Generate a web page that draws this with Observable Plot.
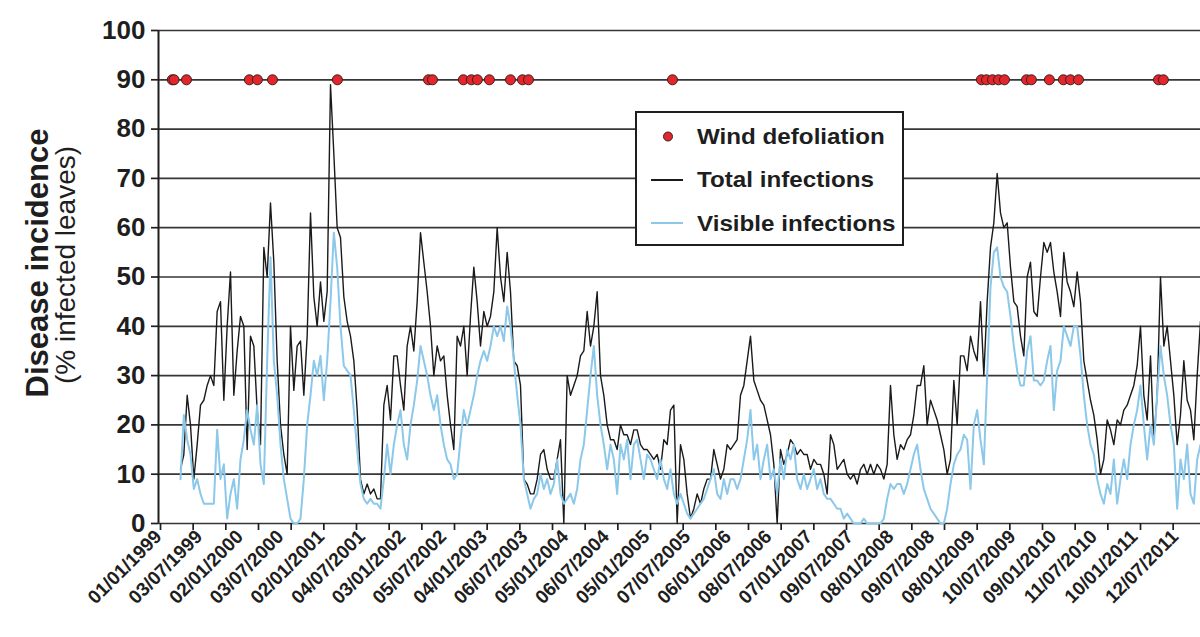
<!DOCTYPE html>
<html>
<head>
<meta charset="utf-8">
<script src="https://cdn.jsdelivr.net/npm/d3@7"></script>
<script src="https://cdn.jsdelivr.net/npm/@observablehq/plot@0.6"></script>
<style>
  html, body { margin: 0; padding: 0; background: #fff; }
  #wrap { position: relative; width: 1200px; height: 637px; overflow: hidden; font-family: "Liberation Sans", Arial, sans-serif; }
  #wrap > svg { display: block; }
  #legend { position: absolute; left: 0; top: 0; pointer-events: none; }
</style>
</head>
<body>
<div id="wrap"></div>
<script>
// ---------------- data ----------------
const tickLabels = ["01/01/1999","03/07/1999","02/01/2000","03/07/2000","02/01/2001","04/07/2001","03/01/2002","05/07/2002","04/01/2003","06/07/2003","05/01/2004","06/07/2004","05/01/2005","07/07/2005","06/01/2006","08/07/2006","07/01/2007","09/07/2007","08/01/2008","09/07/2008","08/01/2009","10/07/2009","09/01/2010","11/07/2010","10/01/2011","12/07/2011"];

const yTicks = [0,10,20,30,40,50,60,70,80,90,100];

// samples every 15 days from this date
const firstSample = "1999-04-10";
const sampleStepDays = 15;

const totalInfections = [
  11,14,26,20,9,16,24,25,28,30,
  28,43,45,25,40,51,26,35,42,40,
  15,38,36,23,16,56,50,65,53,33,
  20,14,10,40,27,36,37,26,38,63,
  46,40,49,41,47,89,75,60,58,46,
  41,38,33,23,9,6,8,6,7,5,
  5,24,28,21,34,34,28,23,36,40,
  35,45,59,53,47,40,30,36,33,34,
  26,20,15,38,36,40,30,42,52,45,
  36,43,40,42,47,60,50,45,55,47,
  33,32,28,9,8,6,6,9,14,15,
  11,9,9,13,17,0,30,26,28,30,
  34,35,43,36,40,47,30,26,20,17,
  17,15,20,18,18,16,19,19,16,15,
  15,14,13,14,11,17,16,23,24,0,
  16,13,6,1,3,6,4,7,9,9,
  15,12,9,11,16,15,16,17,26,28,
  33,38,29,27,25,24,21,18,12,0,
  15,12,14,17,16,14,15,14,14,11,
  13,12,12,10,6,18,16,11,12,13,
  10,9,10,8,11,12,10,12,10,12,
  11,9,12,28,18,13,16,15,17,18,
  22,28,28,32,20,25,23,21,18,15,
  10,13,29,20,34,34,31,38,35,33,
  45,30,45,56,61,71,63,60,61,52,
  45,44,38,34,50,53,43,42,50,57,
  55,57,51,47,42,55,49,47,44,51,
  45,33,29,25,22,17,10,13,21,19,
  16,21,20,23,24,26,28,32,40,26,
  21,34,17,26,50,36,40,33,26,16,
  22,33,25,23,17,30,41
];

const visibleInfections = [
  9,22,17,14,7,9,6,4,4,4,
  4,19,9,12,1,6,9,3,13,17,
  23,19,16,24,12,8,33,54,33,26,
  16,9,5,1,0,0,1,9,20,26,
  33,30,34,25,33,45,59,52,40,32,
  31,30,23,15,8,5,4,5,4,4,
  3,9,16,10,16,20,23,16,13,20,
  24,29,36,33,30,26,23,26,20,16,
  13,12,9,10,17,23,20,23,26,30,
  33,35,33,36,40,38,40,37,44,40,
  33,26,20,9,6,3,5,6,10,7,
  9,6,8,13,6,4,5,6,4,7,
  13,16,23,30,36,26,20,16,11,16,
  13,6,16,13,17,9,16,17,13,9,
  14,13,11,9,13,9,7,11,6,4,
  6,4,2,1,2,3,4,5,7,9,
  11,6,5,9,6,9,9,7,9,13,
  17,23,13,16,9,13,16,9,11,6,
  13,9,15,13,16,9,7,10,7,9,
  11,7,9,6,5,5,4,3,3,1,
  2,1,0,0,0,1,0,0,0,0,
  0,1,5,8,7,8,8,6,8,11,
  14,16,11,7,5,3,2,1,0,0,
  3,8,12,14,15,18,17,7,20,23,
  17,12,30,48,55,56,50,48,47,42,
  36,31,28,28,35,38,29,29,28,29,
  33,36,23,31,33,40,38,36,40,40,
  34,26,20,16,14,9,6,4,8,6,
  13,4,9,13,9,16,20,23,28,20,
  13,20,16,26,36,30,26,20,16,3,
  13,9,16,6,4,13,16
];

const windDefoliationDates = ["1999-03-04","1999-03-12","1999-05-07","2000-02-14","2000-03-21","2000-05-28","2001-03-16","2002-04-30","2002-05-18","2002-10-04","2002-11-09","2002-12-06","2003-01-29","2003-05-04","2003-06-27","2003-07-24","2005-05-02","2009-02-20","2009-03-15","2009-04-11","2009-05-08","2009-06-04","2009-09-11","2009-10-03","2009-12-23","2010-02-24","2010-03-28","2010-05-03","2011-04-28","2011-05-20"];
const windDefoliationLevel = 90;

const xDomain = ["1999-01-01", "2011-11-03"];

// ---------------- build ----------------
const parseLabel = d3.timeParse("%d/%m/%Y");
const parseIso = d3.timeParse("%Y-%m-%d");
const labelDates = tickLabels.map(parseLabel);
const start = parseIso(firstSample);
const toSeries = vals => vals.map((v, i) => ({date: d3.timeDay.offset(start, sampleStepDays * i), value: v}));
const totalData = toSeries(totalInfections);
const visibleData = toSeries(visibleInfections);
const windData = windDefoliationDates.map(s => ({date: parseIso(s), value: windDefoliationLevel}));
const x0 = parseIso(xDomain[0]);
// minor tick marks along the date axis (every 147 days)
const tickMarkDates = d3.range(32).map(i => d3.timeDay.offset(parseIso("1999-01-10"), 147 * i));

const ink = "#1e1e1e";

const chart = Plot.plot({
  width: 1200,
  height: 637,
  marginTop: 30,
  marginBottom: 114,
  marginLeft: 158,
  marginRight: 0,
  style: {fontFamily: "'Liberation Sans', Arial, sans-serif", color: ink, background: "white", overflow: "visible"},
  x: {type: "time", domain: xDomain.map(parseIso)},
  y: {domain: [0, 100]},
  marks: [
    Plot.ruleY(yTicks, {stroke: "#363636", strokeWidth: 1.7}),
    Plot.axisY(yTicks, {tickSize: 7, tickPadding: 6, fontSize: 26, fontWeight: "bold", label: null, stroke: ink, strokeWidth: 1.7, tickFormat: d => String(d)}),
    Plot.axisX(tickMarkDates, {tickSize: 7, tickFormat: () => "", label: null, stroke: ink, strokeWidth: 1.7}),
    Plot.axisX(labelDates, {tickSize: 0, tickRotate: -45, tickPadding: 10, fontSize: 19, fontWeight: "bold", label: null, tickFormat: d3.timeFormat("%d/%m/%Y")}),
    Plot.ruleX([x0], {stroke: ink, strokeWidth: 2}),
    Plot.line(totalData, {x: "date", y: "value", stroke: "#1a1a1a", strokeWidth: 1.4}),
    Plot.line(visibleData, {x: "date", y: "value", stroke: "#8cc8ea", strokeWidth: 2}),
    Plot.dot(windData, {x: "date", y: "value", r: 5, fill: "#e3262b", stroke: "#3a2020", strokeWidth: 1}),
    Plot.text(["Disease incidence"], {frameAnchor: "left", textAnchor: "middle", rotate: -90, dx: -120, dy: -14, fontSize: 31, fontWeight: "bold", fill: ink}),
    Plot.text(["(% infected leaves)"], {frameAnchor: "left", textAnchor: "middle", rotate: -90, dx: -92, dy: -12, fontSize: 28, fill: ink})
  ]
});

const wrap = document.getElementById("wrap");
wrap.appendChild(chart);

// legend overlay
const ns = "http://www.w3.org/2000/svg";
const lg = document.createElementNS(ns, "svg");
lg.setAttribute("id", "legend");
lg.setAttribute("width", 1200);
lg.setAttribute("height", 637);
function el(tag, attrs, text) {
  const e = document.createElementNS(ns, tag);
  for (const k in attrs) e.setAttribute(k, attrs[k]);
  if (text) e.textContent = text;
  lg.appendChild(e);
  return e;
}
el("rect", {x: 636, y: 112, width: 267, height: 133, fill: "#fff", stroke: ink, "stroke-width": 2});
el("circle", {cx: 668, cy: 136.5, r: 4.5, fill: "#e3262b", stroke: "#3a2020", "stroke-width": 1});
el("line", {x1: 651, x2: 683, y1: 180, y2: 180, stroke: "#1a1a1a", "stroke-width": 2});
el("line", {x1: 651, x2: 683, y1: 223, y2: 223, stroke: "#8cc8ea", "stroke-width": 2});
const legendItems = ["Wind defoliation", "Total infections", "Visible infections"];
const legendY = [136, 179.5, 223];
legendItems.forEach((t, i) => {
  el("text", {transform: `translate(697,${legendY[i]}) scale(1.1,1)`, "dominant-baseline": "central", "font-family": "'Liberation Sans', Arial, sans-serif", "font-size": 22, "font-weight": "bold", fill: ink}, t);
});
wrap.appendChild(lg);
</script>
</body>
</html>
